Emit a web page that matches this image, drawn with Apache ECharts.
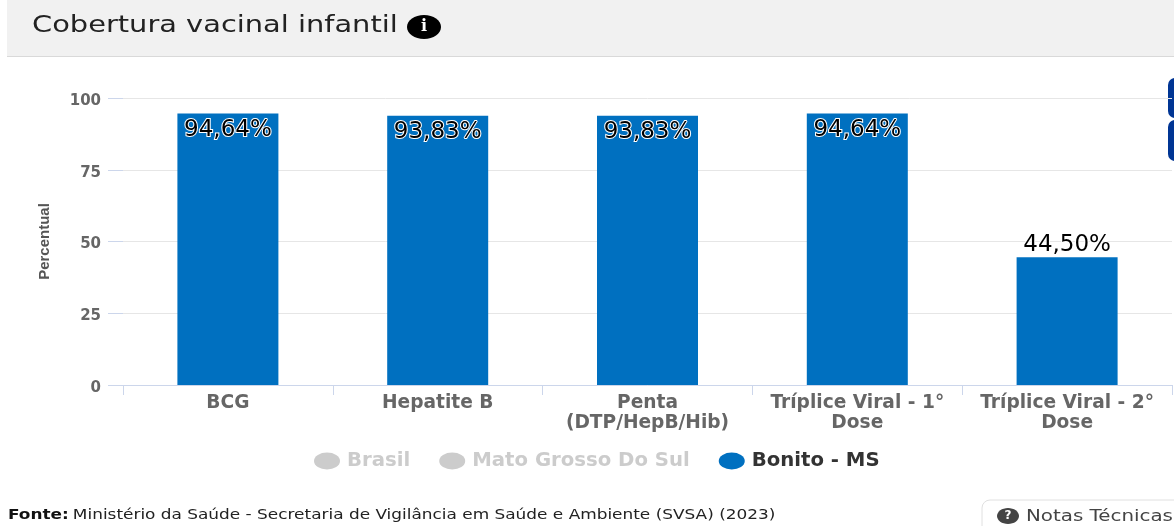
<!DOCTYPE html>
<html><head><meta charset="utf-8">
<style>html,body{margin:0;padding:0;background:#fff}#c{width:1174px;height:526px}</style>
<script src="https://cdn.jsdelivr.net/npm/echarts@6/dist/echarts.min.js"></script></head>
<body><div id="c"></div>
<script>
const categories = ['BCG','Hepatite B','Penta\n(DTP/HepB/Hib)','Tríplice Viral - 1°\nDose','Tríplice Viral - 2°\nDose'];
const bonitoValues = [94.64,93.83,93.83,94.64,44.50];
const legendNames = ['Brasil','Mato Grosso Do Sul','Bonito - MS'];
const yTicks = {min:0,max:100,interval:25};
const font = 'DejaVu Sans';
const chart = echarts.init(document.getElementById('c'),null,{renderer:'canvas'});
chart.setOption({
  animation:false,
  backgroundColor:'#fff',
  color:['#cccccc','#cccccc','#0070c0'],
  grid:{left:123,right:2,top:98,bottom:141,containLabel:false},
  legend:{
    data:legendNames,
    selected:{'Brasil':false,'Mato Grosso Do Sul':false,'Bonito - MS':true},
    left:309,top:446,itemWidth:26,itemHeight:17,itemGap:29,symbolKeepAspect:false,itemStyle:{borderWidth:0},
    icon:'path://M0,50 A50,50 0 1 1 100,50 A50,50 0 1 1 0,50 Z',
    inactiveColor:'#cccccc',
    textStyle:{fontFamily:font,fontSize:19.7,fontWeight:'bold',color:'#333333',padding:[0,0,0,2]}
  },
  xAxis:{type:'category',data:categories,
    axisLine:{lineStyle:{color:'#ccd6eb'}},
    axisTick:{show:true,length:10,alignWithLabel:false,lineStyle:{color:'#ccd6eb'}},
    axisLabel:{fontFamily:font,fontSize:18.6,fontWeight:'bold',color:'#666666',lineHeight:20,margin:8,interval:0}
  },
  yAxis:{type:'value',min:yTicks.min,max:yTicks.max,interval:yTicks.interval,
    name:'Percentual',nameLocation:'middle',nameRotate:90,nameGap:71,
    nameTextStyle:{fontFamily:'Liberation Sans',fontSize:15,fontWeight:'bold',color:'#555555'},
    axisLine:{show:false},
    axisTick:{show:true,length:15,lineStyle:{color:'#ccd6eb'}},
    splitLine:{lineStyle:{color:'#e6e6e6'}},
    axisLabel:{fontFamily:font,fontSize:15,fontWeight:'bold',color:'#666666',margin:22,verticalAlign:'top',lineHeight:6}
  },
  series:[
    {name:legendNames[0],type:'bar',data:[]},
    {name:legendNames[1],type:'bar',data:[]},
    {name:legendNames[2],type:'bar',barWidth:101,itemStyle:{color:'#0070c0'},
      data:bonitoValues.map(v=>({value:v,label:{position:v>80?'insideTop':'top',distance:v>80?5:1}})),
      label:{show:true,fontFamily:font,fontSize:23,fontWeight:'normal',color:'#000',
        textBorderColor:'#ffffff',textBorderWidth:2,
        formatter:p=>p.value.toFixed(2).replace('.',',')+'%'}
    }
  ],
  graphic:[
    {type:'rect',z:-1,shape:{x:7,y:0,width:1167,height:56},style:{fill:'#f1f1f1'}},
    {type:'rect',z:-1,shape:{x:7,y:56,width:1167,height:1},style:{fill:'#d9d9d9'}},
    {type:'text',x:32,y:26,scaleX:1.255,style:{text:'Cobertura vacinal infantil',fontFamily:font,fontSize:23,fill:'#222222',textVerticalAlign:'middle'}},
    {type:'ellipse',shape:{cx:424,cy:27,rx:17,ry:12},style:{fill:'#000'},silent:true},
    {type:'text',x:424,y:27,style:{text:'i',fontFamily:'DejaVu Serif',fontWeight:'bold',fontSize:16,fill:'#fff',textAlign:'center',textVerticalAlign:'middle'}},
    {type:'rect',shape:{x:1168,y:78,width:20,height:40,r:7},style:{fill:'#003594'}},
    {type:'rect',shape:{x:1168,y:120,width:20,height:41,r:7},style:{fill:'#003594'}},
    {type:'text',x:8,y:515,scaleX:1.208,style:{rich:{b:{fontFamily:font,fontWeight:'bold',fontSize:14,fill:'#111'},n:{fontFamily:font,fontSize:14,fill:'#222'}},text:'{b|Fonte:} {n|Ministério da Saúde - Secretaria de Vigilância em Saúde e Ambiente (SVSA) (2023)}',textVerticalAlign:'middle'}},
    {type:'rect',shape:{x:982,y:500,width:220,height:50,r:8},style:{fill:'#fff',stroke:'#e0e0e0',lineWidth:1}},
    {type:'ellipse',shape:{cx:1008,cy:516,rx:11,ry:8},style:{fill:'#444'}},
    {type:'text',x:1008,y:516,style:{text:'?',fontFamily:font,fontWeight:'bold',fontSize:12,fill:'#fff',textAlign:'center',textVerticalAlign:'middle'}},
    {type:'text',x:1026,y:517,scaleX:1.24,style:{text:'Notas Técnicas',fontFamily:font,fontSize:16,fill:'#444',textVerticalAlign:'middle'}}
  ]
});
</script></body></html>
